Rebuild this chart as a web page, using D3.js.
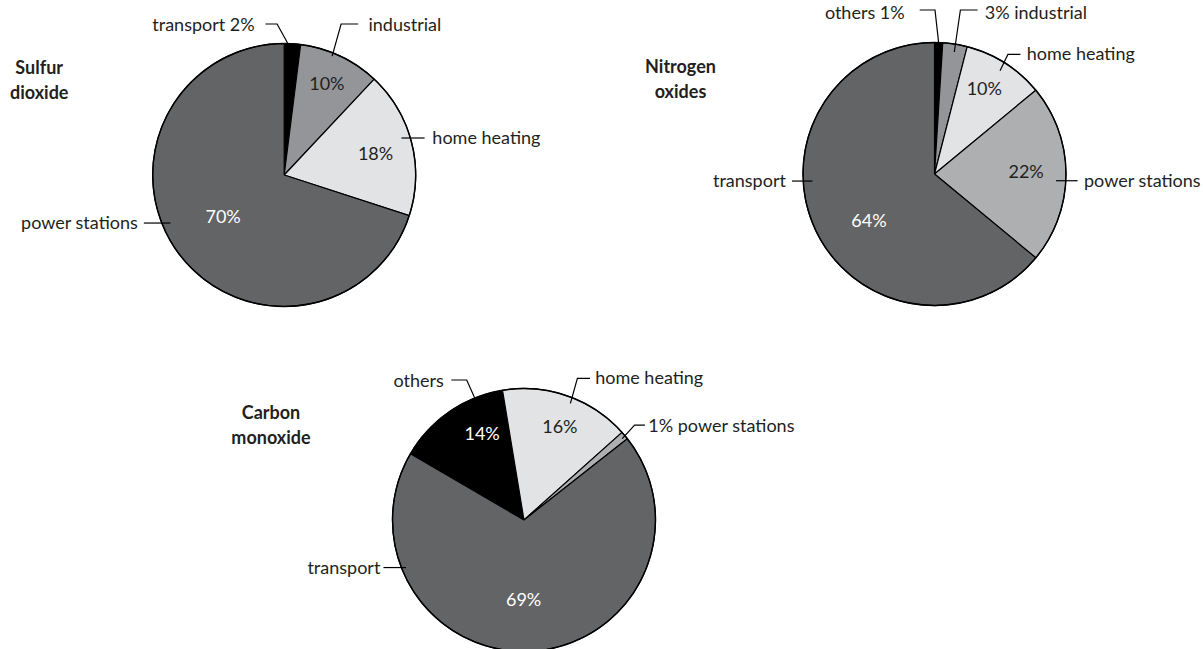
<!DOCTYPE html>
<html>
<head>
<meta charset="utf-8">
<script src="https://cdn.jsdelivr.net/npm/d3@7/dist/d3.min.js"></script>
<style>
  html, body { margin: 0; padding: 0; background: #ffffff; }
  svg { display: block; }
  text { font-family: Lato, "Open Sans", "DejaVu Sans", sans-serif; fill: #231f20; }
</style>
</head>
<body>
<svg id="chart" width="1203" height="649"></svg>
<script>
// ---- Emission shares by source (percent) ----
const sulfurCategories = ["transport", "industrial", "home heating", "power stations"];
const sulfurValues = [2, 10, 18, 70];

const nitrogenCategories = ["others", "industrial", "home heating", "power stations", "transport"];
const nitrogenValues = [1, 3, 10, 22, 64];

const carbonCategories = ["others", "home heating", "power stations", "transport"];
const carbonValues = [14, 16, 1, 69];

const pollutantTitles = [["Sulfur", "dioxide"], ["Nitrogen", "oxides"], ["Carbon", "monoxide"]];

// ---- Layout and styling ----
const R = 131.5;
const deg = Math.PI / 180;
const DARK = "#636466", MID = "#939598", SILVER = "#adafb1", LIGHT = "#e2e3e4", BLACK = "#000000";

// callout: frac/r locate the leader's inner end inside the slice,
// elbow is an optional bend (relative to the pie centre), run is the horizontal tail,
// gap separates tail and text, dy shifts the text baseline below the tail.
const pies = [
  {
    cats: sulfurCategories, vals: sulfurValues, title: pollutantTitles[0],
    cx: 284.2, cy: 175, start: 0, titleX: -245,
    fills: [BLACK, MID, LIGHT, DARK],
    pctInk: [null, "#231f20", "#231f20", "#ffffff"],
    pctPos: [null, [42.7, -84.8], [91.4, -15.3], [-61.1, 48.1]],
    callouts: [
      { fmt: "name pct", frac: 0.22, r: 1.0, elbow: [-7.1, -151], run: -11.7, gap: 10.7, dy: 6.5 },
      { fmt: "name", frac: 0.41, r: 0.975, elbow: [56.9, -151], run: 17.1, gap: 10.3, dy: 6.5 },
      { fmt: "name", frac: 0.452, r: 0.935, elbow: null, run: 23.1, gap: 7.8, dy: 6 },
      { fmt: "name", frac: 0.552, r: 0.939, elbow: null, run: -26.6, gap: 6.1, dy: 6 }
    ]
  },
  {
    cats: nitrogenCategories, vals: nitrogenValues, title: pollutantTitles[1],
    cx: 934.5, cy: 174, start: 0, titleX: -254,
    fills: [BLACK, MID, LIGHT, SILVER, DARK],
    pctInk: [null, null, "#231f20", "#231f20", "#ffffff"],
    pctPos: [null, null, [49.8, -79.5], [91.6, 4], [-65.5, 52.5]],
    callouts: [
      { fmt: "name pct", frac: 0.5, r: 1.0, elbow: [0.5, -164], run: -15.3, gap: 15, dy: 8.5 },
      { fmt: "pct name", frac: 0.52, r: 0.94, elbow: [25.9, -164], run: 17.2, gap: 7.1, dy: 8.5 },
      { fmt: "name", frac: 0.5, r: 0.93, elbow: [73.4, -119.6], run: 12.5, gap: 6.4, dy: 6 },
      { fmt: "name", frac: 0.54, r: 0.926, elbow: null, run: 21.5, gap: 6.4, dy: 6 },
      { fmt: "name", frac: 0.595, r: 0.93, elbow: null, run: -20.4, gap: 6.1, dy: 6 }
    ]
  },
  {
    cats: carbonCategories, vals: carbonValues, title: pollutantTitles[2],
    cx: 524, cy: 520, start: -59.8, titleX: -253,
    fills: [BLACK, LIGHT, SILVER, DARK],
    pctInk: ["#ffffff", "#231f20", null, "#ffffff"],
    pctPos: [[-41.9, -80.5], [35.9, -87.2], null, [-0.4, 85.5]],
    callouts: [
      { fmt: "name", frac: 0.75, r: 1.0, elbow: [-57.3, -140], run: -15.4, gap: 7.5, dy: 6.5 },
      { fmt: "name", frac: 0.54, r: 0.954, elbow: [53.4, -141.6], run: 12.6, gap: 5.2, dy: 6 },
      { fmt: "pct name", frac: 0.6, r: 0.97, elbow: [110.6, -94.9], run: 10.3, gap: 3.4, dy: 7 },
      { fmt: "name", frac: 0.79, r: 0.967, elbow: null, run: -22.6, gap: 3.1, dy: 6 }
    ]
  }
];

const svg = d3.select("#chart");
const arc = d3.arc().innerRadius(0).outerRadius(R);

function labelText(fmt, name, v) {
  if (fmt === "name pct") return name + " " + v + "%";
  if (fmt === "pct name") return v + "% " + name;
  return name;
}

pies.forEach(p => {
  const g = svg.append("g").attr("transform", `translate(${p.cx},${p.cy})`);
  const data = p.cats.map((c, i) => ({ name: c, value: p.vals[i], idx: i }));
  const arcs = d3.pie()
    .value(d => d.value)
    .sort(null)
    .startAngle(p.start * deg)
    .endAngle(p.start * deg + 2 * Math.PI)(data);

  // slices
  g.selectAll("path.slice")
    .data(arcs)
    .join("path")
    .attr("class", "slice")
    .attr("d", arc)
    .attr("fill", d => p.fills[d.data.idx])
    .attr("stroke", "#000")
    .attr("stroke-width", 1.2)
    .attr("stroke-linejoin", "round");

  // outer rim
  g.append("circle").attr("r", R).attr("fill", "none")
    .attr("stroke", "#000").attr("stroke-width", 1.4);

  // percentages inside slices
  arcs.forEach(a => {
    const pos = p.pctPos[a.data.idx];
    if (!pos) return;
    g.append("text")
      .attr("x", pos[0]).attr("y", pos[1])
      .attr("text-anchor", "middle")
      .attr("font-size", 18)
      .style("fill", p.pctInk[a.data.idx])
      .text(a.data.value + "%");
  });

  // callout leaders and category labels
  arcs.forEach(a => {
    const c = p.callouts[a.data.idx];
    const ang = a.startAngle + c.frac * (a.endAngle - a.startAngle);
    const start = [Math.sin(ang) * c.r * R, -Math.cos(ang) * c.r * R];
    const pts = [start];
    if (c.elbow) pts.push(c.elbow);
    const last = pts[pts.length - 1];
    const tail = [last[0] + c.run, last[1]];
    pts.push(tail);
    g.append("path")
      .attr("d", d3.line()(pts))
      .attr("fill", "none")
      .attr("stroke", "#000")
      .attr("stroke-width", 1.2);
    const dir = Math.sign(c.run);
    g.append("text")
      .attr("x", tail[0] + dir * c.gap)
      .attr("y", tail[1] + c.dy)
      .attr("text-anchor", dir < 0 ? "end" : "start")
      .attr("font-size", 18)
      .text(labelText(c.fmt, a.data.name, a.data.value));
  });

  // pollutant title
  const t = g.append("text")
    .attr("text-anchor", "middle")
    .attr("font-size", 18)
    .attr("font-weight", "bold");
  p.title.forEach((line, i) => {
    t.append("tspan").attr("x", p.titleX).attr("y", -101 + i * 25).text(line);
  });
});
</script>
</body>
</html>
